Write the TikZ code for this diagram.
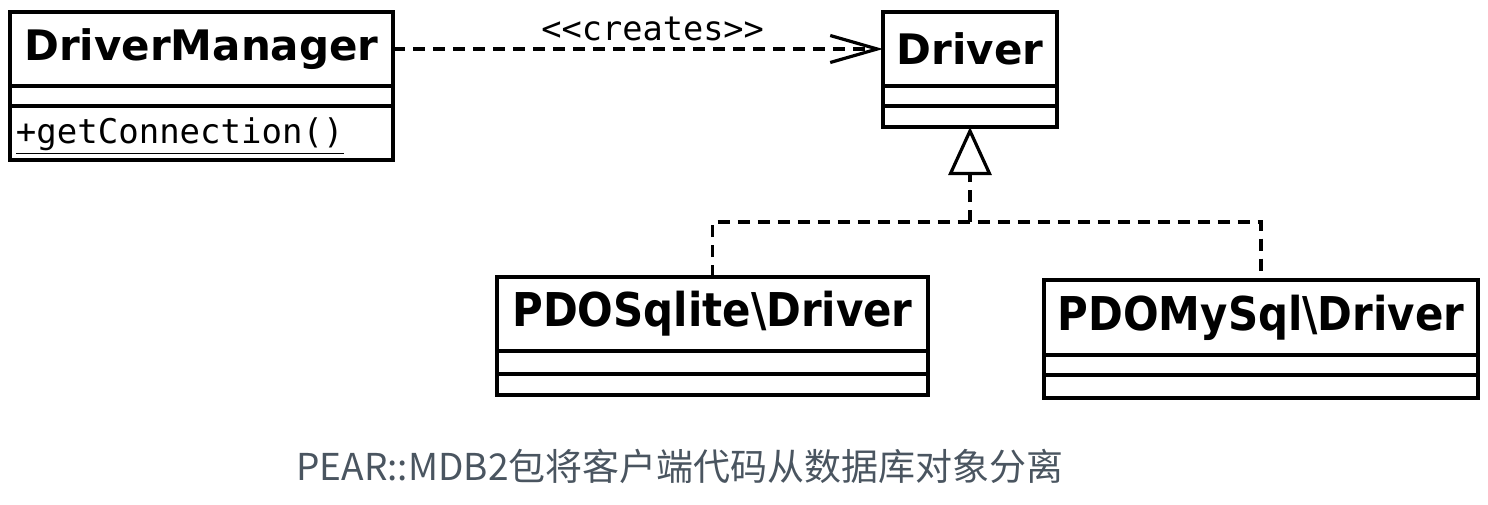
\documentclass[tikz,border=0pt]{standalone}
\usepackage{fontspec}
\usetikzlibrary{arrows.meta,positioning}
\newfontfamily\umlfont{DejaVu Sans}
\newfontfamily\umlnarrow[FakeStretch=0.9]{DejaVu Sans}
\newfontfamily\umlmono{DejaVu Sans Mono}
\newfontfamily\cjk{Noto Sans CJK SC}
\definecolor{captiongray}{RGB}{74,85,96}

\begin{document}
\begin{tikzpicture}[x=0.5pt, y=-0.5pt,
  box/.style={draw, line width=1.7pt, outer sep=0pt, inner sep=0pt, anchor=north west},
  classhead/.style={box, font=\umlfont\bfseries\fontsize{21}{25}\selectfont},
  subhead/.style={box, font=\umlnarrow\bfseries\fontsize{23.3}{27}\selectfont},
  creates/.style={line width=1.6pt, dash pattern=on 6pt off 4pt, -{Straight Barb[length=23.5pt, width=13.5pt]}},
  realize/.style={line width=1.6pt, dash pattern=on 6pt off 4pt}]
\useasboundingbox (0,0) rectangle (1488,504);

\node[classhead, minimum width=191.5pt, minimum height=37pt] (dmhead) at (10,12) {DriverManager};
\node[box, minimum width=191.5pt, minimum height=10pt, below=0pt of dmhead] (dmattr) {};
\node[box, minimum width=191.5pt, minimum height=27pt, below=0pt of dmattr, text width=185.5pt, inner xsep=3pt, align=left,
  text height=12pt, text depth=2pt, font=\umlmono\fontsize{17}{20}\selectfont] (dmops) {\underline{+getConnection()}};

\node[classhead, minimum width=87pt, minimum height=37pt] (drvhead) at (883,12) {Driver};
\node[box, minimum width=87pt, minimum height=10pt, below=0pt of drvhead] (drvattr) {};
\node[box, minimum width=87pt, minimum height=10.5pt, below=0pt of drvattr] (drvops) {};

\node[subhead, minimum width=215.5pt, minimum height=37pt] (sqlhead) at (497,277) {PDOSqlite\textbackslash Driver};
\node[box, minimum width=215.5pt, minimum height=11.5pt, below=0pt of sqlhead] (sqlattr) {};
\node[box, minimum width=215.5pt, minimum height=10.5pt, below=0pt of sqlattr] (sqlops) {};

\node[subhead, minimum width=217pt, minimum height=37.5pt] (myhead) at (1044,280) {PDOMySql\textbackslash Driver};
\node[box, minimum width=217pt, minimum height=10pt, below=0pt of myhead] (myattr) {};
\node[box, minimum width=217pt, minimum height=11.5pt, below=0pt of myattr] (myops) {};

\draw[creates] (dmhead.east) -- (drvhead.west)
  node[pos=0.53, above=0pt, font=\umlmono\fontsize{16.8}{20}\selectfont] {<{}<creates>{}>};

\coordinate (join) at (970,222);
\draw[realize] (sqlhead.north) |- (join) -| (myhead.north);
\draw[realize, -{Triangle[open, length=24pt, width=21.5pt, fill=white]}] (join) -- (drvops.south);

\node[font=\cjk\fontsize{18.5}{22}\selectfont, text=captiongray] (caption) at (680,466) {PEAR::MDB2包将客户端代码从数据库对象分离};
\end{tikzpicture}
\end{document}
